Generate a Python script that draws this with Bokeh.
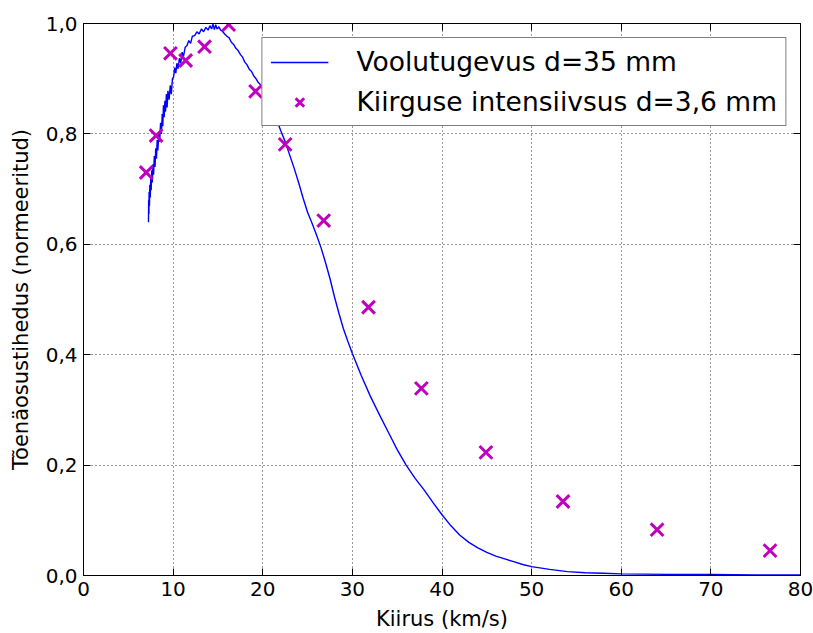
from bokeh.plotting import figure
from bokeh.models import (ColumnDataSource, LinearAxis, FixedTicker, CustomJSTickFormatter,
                          Range1d, Legend, LegendItem, CustomLabelingPolicy)
from bokeh.embed import file_html
from bokeh.resources import INLINE

# Voolutugevus d=35 mm (current)
cur_x = [7.25, 7.27, 7.30, 7.32, 7.36, 7.40, 7.45, 7.50, 7.55, 7.62, 7.68, 7.75, 7.82, 7.90, 7.98,
         8.06, 8.14, 8.22, 8.30, 8.40, 8.50, 8.60, 8.70, 8.78, 8.85, 8.92, 9.00, 9.08, 9.15, 9.25,
         9.33, 9.42, 9.55, 9.68, 9.80, 9.92, 10.05, 10.18, 10.30, 10.42, 10.55, 10.70, 10.85, 11.00,
         11.15, 11.35, 11.55, 11.75, 11.95, 12.15, 12.40, 12.65, 12.90, 13.15, 13.40, 13.65, 13.90,
         14.10, 14.30, 14.45, 14.60, 14.75, 14.90, 15.10, 15.30, 15.50, 15.75, 16.00, 16.25, 16.50,
         16.75, 17.00, 17.25, 17.50, 17.75, 18.00, 18.25, 18.50, 18.75, 19.00, 19.25, 19.50, 19.75,
         20.0, 20.5, 21.0, 21.5, 22.0, 22.5, 23.0, 23.5, 24.0, 24.5, 25.0, 25.5, 26.0, 26.5, 27.0,
         27.5, 28.0, 28.5, 29.0, 29.5, 30.0, 31.0, 32.0, 33.0, 34.0, 35.0, 36.0, 37.0, 38.0, 39.0,
         40.0, 41.0, 42.0, 43.0, 44.0, 45.0, 46.0, 47.0, 48.0, 49.0, 50.0, 52.0, 54.0, 56.0, 58.0,
         60.0, 65.0, 70.0, 75.0, 80.0]
cur_y = [0.640, 0.680, 0.655, 0.695, 0.670, 0.708, 0.685, 0.720, 0.698, 0.734, 0.712, 0.745, 0.726,
         0.760, 0.740, 0.774, 0.755, 0.789, 0.770, 0.803, 0.786, 0.820, 0.800, 0.836, 0.814, 0.852,
         0.830, 0.860, 0.840, 0.872, 0.848, 0.878, 0.862, 0.888, 0.872, 0.900, 0.903, 0.920, 0.910,
         0.928, 0.918, 0.937, 0.928, 0.948, 0.940, 0.957, 0.960, 0.969, 0.964, 0.977, 0.978, 0.985,
         0.981, 0.990, 0.985, 0.993, 0.988, 0.996, 0.990, 0.999, 0.989, 0.998, 0.990, 0.994, 0.988,
         0.986, 0.981, 0.977, 0.974, 0.966, 0.962, 0.955, 0.951, 0.944, 0.939, 0.930, 0.925, 0.917,
         0.913, 0.905, 0.900, 0.893, 0.889,
         0.880, 0.866, 0.848, 0.828, 0.806, 0.786, 0.762, 0.738, 0.712, 0.684, 0.658, 0.638, 0.617,
         0.594, 0.567, 0.538, 0.505, 0.475, 0.447, 0.424, 0.402, 0.362, 0.325, 0.292, 0.260, 0.228,
         0.200, 0.176, 0.155, 0.132, 0.110, 0.090, 0.073, 0.060, 0.050, 0.042, 0.035, 0.030, 0.025,
         0.020, 0.016, 0.011, 0.007, 0.005, 0.004, 0.003, 0.002, 0.002, 0.001, 0.001]

# Kiirguse intensiivsus d=3,6 mm (radiation intensity)
rad_x = [7.0, 8.1, 9.7, 11.4, 13.5, 16.2, 19.2, 22.5, 26.8, 31.8, 37.7, 44.9, 53.5, 64.0, 76.6]
rad_y = [0.730, 0.797, 0.946, 0.933, 0.958, 0.998, 0.877, 0.781, 0.643, 0.486, 0.339, 0.223,
         0.134, 0.083, 0.045]

x_ticks = [0, 10, 20, 30, 40, 50, 60, 70, 80]
y_ticks = [0.0, 0.2, 0.4, 0.6, 0.8, 1.0]

FONT = "DejaVu Sans"

p = figure(width=813, height=633, output_backend="svg", toolbar_location=None,
           x_range=Range1d(0, 80), y_range=Range1d(0, 1),
           min_border_left=83, min_border_right=13, min_border_top=23, min_border_bottom=58,
           background_fill_color="white", border_fill_color="white")
p.outline_line_color = "black"
p.outline_line_width = 1

cur_src = ColumnDataSource(dict(x=cur_x, y=cur_y))
rad_src = ColumnDataSource(dict(x=rad_x, y=rad_y))

r_line = p.line("x", "y", source=cur_src, line_color="#0000ff", line_width=1.4)
r_pts = p.scatter("x", "y", source=rad_src, marker="x", size=18, line_color="#bf00bf",
                  line_width=3)

ytf = CustomJSTickFormatter(code="return tick.toFixed(1).replace('.', ',');")
xtf = CustomJSTickFormatter(code="return tick.toFixed(0);")

for ax in p.xaxis:
    ax.ticker = FixedTicker(ticks=x_ticks)
    ax.formatter = xtf
for ax in p.yaxis:
    ax.ticker = FixedTicker(ticks=y_ticks)
    ax.formatter = ytf

for ax in list(p.xaxis) + list(p.yaxis):
    ax.major_tick_in = 7
    ax.major_tick_out = 0
    ax.minor_tick_line_color = None
    ax.axis_line_color = "black"
    ax.major_tick_line_color = "black"
    ax.major_label_text_font = FONT
    ax.major_label_text_font_size = "20px"
    ax.major_label_text_color = "black"
    ax.axis_label_text_font = FONT
    ax.axis_label_text_font_size = "21px"
    ax.axis_label_text_font_style = "normal"
    ax.axis_label_text_color = "black"

p.xaxis.axis_label = "Kiirus (km/s)"
p.yaxis.axis_label = "Tõenäosustihedus (normeeritud)"
p.xaxis.major_label_standoff = 6
p.yaxis.major_label_standoff = 6
p.xaxis.axis_label_standoff = 8
p.yaxis.axis_label_standoff = 10

# top and right tick-only axes (labels hidden)
hide_all = "for (let i = 0; i < indices.size; i++) { indices.unset(i); } return indices;"
top = LinearAxis(ticker=FixedTicker(ticks=x_ticks), major_tick_in=7, major_tick_out=0,
                 minor_tick_line_color=None, major_label_policy=CustomLabelingPolicy(code=hide_all),
                 major_label_text_font_size="0px", major_label_standoff=0, axis_line_color="black")
right = LinearAxis(ticker=FixedTicker(ticks=y_ticks), major_tick_in=7, major_tick_out=0,
                   minor_tick_line_color=None, major_label_policy=CustomLabelingPolicy(code=hide_all),
                   major_label_text_font_size="0px", major_label_standoff=0, axis_line_color="black")
p.add_layout(top, "above")
p.add_layout(right, "right")

p.xgrid.ticker = FixedTicker(ticks=x_ticks)
p.ygrid.ticker = FixedTicker(ticks=y_ticks)
for g in (p.xgrid, p.ygrid):
    g.grid_line_color = "black"
    g.grid_line_alpha = 0.8
    g.grid_line_dash = "1 3"
    g.grid_line_width = 1

legend = Legend(items=[LegendItem(label="Voolutugevus d=35 mm", renderers=[r_line]),
                       LegendItem(label="Kiirguse intensiivsus d=3,6 mm", renderers=[r_pts])],
                location="top_right")
legend.margin = 14
legend.padding = 8
legend.spacing = 9
legend.glyph_width = 58
legend.glyph_height = 30
legend.label_height = 30
legend.label_standoff = 28
legend.label_text_font = FONT
legend.label_text_font_size = "26.5px"
legend.label_text_color = "black"
legend.border_line_color = "black"
legend.border_line_width = 1
legend.background_fill_color = "white"
legend.background_fill_alpha = 1.0
p.add_layout(legend)

open("out.html", "w").write(file_html(p, INLINE))
